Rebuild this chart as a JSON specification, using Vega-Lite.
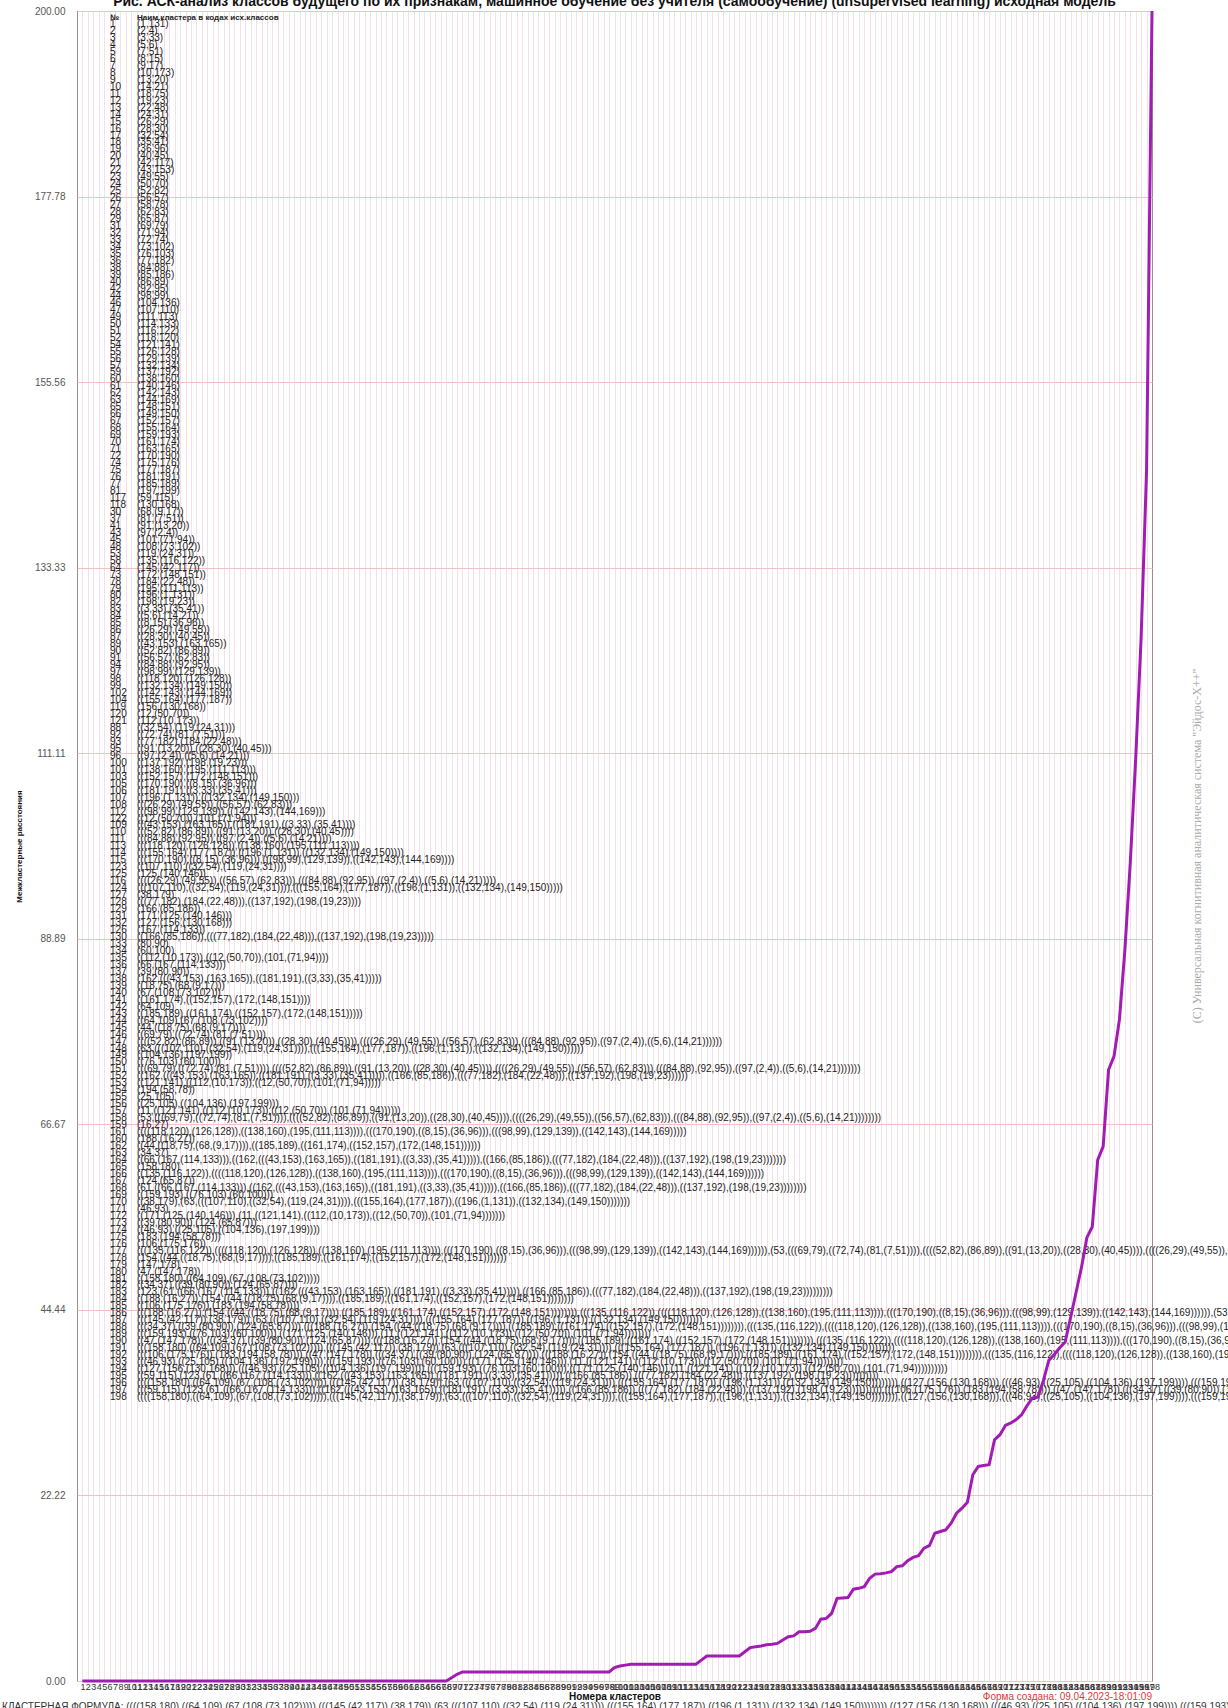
{
"$schema": "https://vega.github.io/schema/vega-lite/v6.json",
"width": 1075,
"height": 1670,
"autosize": {"type": "none"},
"padding": {"left": 77, "top": 11, "right": 76, "bottom": 27},
"background": "white",
"config": {"view": {"stroke": "#555555", "strokeWidth": 1}, "font": "Liberation Sans"},
"title": {"text": "Рис. АСК-анализ классов будущего по их признакам, машинное обучение без учителя (самообучение) (unsupervised learning) исходная модель", "fontSize": 14, "fontWeight": "bold", "font": "Liberation Sans", "color": "#111111", "anchor": "middle", "frame": "group", "offset": -4},
"datasets": {
"curve": [
{"cluster":1,"distance":0},{"cluster":2,"distance":0},{"cluster":3,"distance":0},{"cluster":4,"distance":0},{"cluster":5,"distance":0},{"cluster":6,"distance":0},{"cluster":7,"distance":0},{"cluster":8,"distance":0},{"cluster":9,"distance":0},{"cluster":10,"distance":0},
{"cluster":11,"distance":0},{"cluster":12,"distance":0},{"cluster":13,"distance":0},{"cluster":14,"distance":0},{"cluster":15,"distance":0},{"cluster":16,"distance":0},{"cluster":17,"distance":0},{"cluster":18,"distance":0},{"cluster":19,"distance":0},{"cluster":20,"distance":0},
{"cluster":21,"distance":0},{"cluster":22,"distance":0},{"cluster":23,"distance":0},{"cluster":24,"distance":0},{"cluster":25,"distance":0},{"cluster":26,"distance":0},{"cluster":27,"distance":0},{"cluster":28,"distance":0},{"cluster":29,"distance":0},{"cluster":30,"distance":0},
{"cluster":31,"distance":0},{"cluster":32,"distance":0},{"cluster":33,"distance":0},{"cluster":34,"distance":0},{"cluster":35,"distance":0},{"cluster":36,"distance":0},{"cluster":37,"distance":0},{"cluster":38,"distance":0},{"cluster":39,"distance":0},{"cluster":40,"distance":0},
{"cluster":41,"distance":0},{"cluster":42,"distance":0},{"cluster":43,"distance":0},{"cluster":44,"distance":0},{"cluster":45,"distance":0},{"cluster":46,"distance":0},{"cluster":47,"distance":0},{"cluster":48,"distance":0},{"cluster":49,"distance":0},{"cluster":50,"distance":0},
{"cluster":51,"distance":0},{"cluster":52,"distance":0},{"cluster":53,"distance":0},{"cluster":54,"distance":0},{"cluster":55,"distance":0},{"cluster":56,"distance":0},{"cluster":57,"distance":0},{"cluster":58,"distance":0},{"cluster":59,"distance":0},{"cluster":60,"distance":0},
{"cluster":61,"distance":0},{"cluster":62,"distance":0},{"cluster":63,"distance":0},{"cluster":64,"distance":0},{"cluster":65,"distance":0},{"cluster":66,"distance":0},{"cluster":67,"distance":0},{"cluster":68,"distance":0},{"cluster":69,"distance":0.4},{"cluster":70,"distance":0.8},
{"cluster":71,"distance":1.08},{"cluster":72,"distance":1.08},{"cluster":73,"distance":1.08},{"cluster":74,"distance":1.08},{"cluster":75,"distance":1.08},{"cluster":76,"distance":1.08},{"cluster":77,"distance":1.08},{"cluster":78,"distance":1.08},{"cluster":79,"distance":1.08},{"cluster":80,"distance":1.08},
{"cluster":81,"distance":1.08},{"cluster":82,"distance":1.08},{"cluster":83,"distance":1.08},{"cluster":84,"distance":1.08},{"cluster":85,"distance":1.08},{"cluster":86,"distance":1.08},{"cluster":87,"distance":1.08},{"cluster":88,"distance":1.08},{"cluster":89,"distance":1.08},{"cluster":90,"distance":1.08},
{"cluster":91,"distance":1.08},{"cluster":92,"distance":1.08},{"cluster":93,"distance":1.08},{"cluster":94,"distance":1.08},{"cluster":95,"distance":1.08},{"cluster":96,"distance":1.08},{"cluster":97,"distance":1.08},{"cluster":98,"distance":1.08},{"cluster":99,"distance":1.6},{"cluster":100,"distance":1.8},
{"cluster":101,"distance":1.9},{"cluster":102,"distance":2.0},{"cluster":103,"distance":2.0},{"cluster":104,"distance":2.0},{"cluster":105,"distance":2.0},{"cluster":106,"distance":2.0},{"cluster":107,"distance":2.0},{"cluster":108,"distance":2.0},{"cluster":109,"distance":2.0},{"cluster":110,"distance":2.0},
{"cluster":111,"distance":2.0},{"cluster":112,"distance":2.0},{"cluster":113,"distance":2.0},{"cluster":114,"distance":2.0},{"cluster":115,"distance":2.5},{"cluster":116,"distance":3.0},{"cluster":117,"distance":3.0},{"cluster":118,"distance":3.0},{"cluster":119,"distance":3.0},{"cluster":120,"distance":3.0},
{"cluster":121,"distance":3.0},{"cluster":122,"distance":3.0},{"cluster":123,"distance":3.5},{"cluster":124,"distance":4.0},{"cluster":125,"distance":4.1},{"cluster":126,"distance":4.2},{"cluster":127,"distance":4.35},{"cluster":128,"distance":4.4},{"cluster":129,"distance":4.5},{"cluster":130,"distance":4.9},
{"cluster":131,"distance":5.3},{"cluster":132,"distance":5.4},{"cluster":133,"distance":5.9},{"cluster":134,"distance":5.9},{"cluster":135,"distance":5.95},{"cluster":136,"distance":6.3},{"cluster":137,"distance":7.4},{"cluster":138,"distance":7.5},{"cluster":139,"distance":8.1},{"cluster":140,"distance":9.9},
{"cluster":141,"distance":9.95},{"cluster":142,"distance":10.0},{"cluster":143,"distance":11.0},{"cluster":144,"distance":11.1},{"cluster":145,"distance":11.3},{"cluster":146,"distance":12.3},{"cluster":147,"distance":12.8},{"cluster":148,"distance":12.85},{"cluster":149,"distance":12.95},{"cluster":150,"distance":13.1},
{"cluster":151,"distance":13.7},{"cluster":152,"distance":13.8},{"cluster":153,"distance":14.4},{"cluster":154,"distance":14.8},{"cluster":155,"distance":15.0},{"cluster":156,"distance":15.9},{"cluster":157,"distance":16.2},{"cluster":158,"distance":17.7},{"cluster":159,"distance":17.9},{"cluster":160,"distance":18.1},
{"cluster":161,"distance":18.9},{"cluster":162,"distance":20.1},{"cluster":163,"distance":20.7},{"cluster":164,"distance":21.4},{"cluster":165,"distance":24.7},{"cluster":166,"distance":25.7},{"cluster":167,"distance":25.8},{"cluster":168,"distance":25.9},{"cluster":169,"distance":28.9},{"cluster":170,"distance":29.5},
{"cluster":171,"distance":30.6},{"cluster":172,"distance":30.9},{"cluster":173,"distance":31.3},{"cluster":174,"distance":31.9},{"cluster":175,"distance":33.0},{"cluster":176,"distance":33.9},{"cluster":177,"distance":34.0},{"cluster":178,"distance":36.0},{"cluster":179,"distance":38.4},{"cluster":180,"distance":39.1},
{"cluster":181,"distance":39.9},{"cluster":182,"distance":40.6},{"cluster":183,"distance":43.5},{"cluster":184,"distance":46.5},{"cluster":185,"distance":49.5},{"cluster":186,"distance":53.1},{"cluster":187,"distance":54.4},{"cluster":188,"distance":62.4},{"cluster":189,"distance":64.0},{"cluster":190,"distance":73.2},
{"cluster":191,"distance":74.8},{"cluster":192,"distance":79.2},{"cluster":193,"distance":87.5},{"cluster":194,"distance":98.0},{"cluster":195,"distance":110.5},{"cluster":196,"distance":125.0},{"cluster":197,"distance":145.0},{"cluster":198,"distance":200.0}
],
"table": [
{"row":1,"no":"1","name":"(1,131)"},{"row":2,"no":"2","name":"(2,4)"},{"row":3,"no":"3","name":"(3,33)"},{"row":4,"no":"4","name":"(5,6)"},{"row":5,"no":"5","name":"(7,51)"},{"row":6,"no":"6","name":"(8,15)"},{"row":7,"no":"7","name":"(9,17)"},{"row":8,"no":"8","name":"(10,173)"},{"row":9,"no":"9","name":"(13,20)"},{"row":10,"no":"10","name":"(14,21)"},
{"row":11,"no":"11","name":"(18,75)"},{"row":12,"no":"12","name":"(19,23)"},{"row":13,"no":"13","name":"(22,48)"},{"row":14,"no":"14","name":"(24,31)"},{"row":15,"no":"15","name":"(26,29)"},{"row":16,"no":"16","name":"(28,30)"},{"row":17,"no":"17","name":"(32,54)"},{"row":18,"no":"18","name":"(35,41)"},{"row":19,"no":"19","name":"(36,96)"},{"row":20,"no":"20","name":"(40,45)"},
{"row":21,"no":"21","name":"(42,117)"},{"row":22,"no":"22","name":"(43,153)"},{"row":23,"no":"23","name":"(49,55)"},{"row":24,"no":"24","name":"(50,70)"},{"row":25,"no":"25","name":"(52,82)"},{"row":26,"no":"26","name":"(56,57)"},{"row":27,"no":"27","name":"(58,78)"},{"row":28,"no":"28","name":"(62,83)"},{"row":29,"no":"29","name":"(65,87)"},{"row":30,"no":"31","name":"(69,79)"},
{"row":31,"no":"32","name":"(71,94)"},{"row":32,"no":"33","name":"(72,74)"},{"row":33,"no":"34","name":"(73,102)"},{"row":34,"no":"35","name":"(76,103)"},{"row":35,"no":"36","name":"(77,182)"},{"row":36,"no":"38","name":"(84,88)"},{"row":37,"no":"39","name":"(85,186)"},{"row":38,"no":"40","name":"(86,89)"},{"row":39,"no":"42","name":"(92,95)"},{"row":40,"no":"44","name":"(98,99)"},
{"row":41,"no":"46","name":"(104,136)"},{"row":42,"no":"47","name":"(107,110)"},{"row":43,"no":"49","name":"(111,113)"},{"row":44,"no":"50","name":"(114,133)"},{"row":45,"no":"51","name":"(116,122)"},{"row":46,"no":"52","name":"(118,120)"},{"row":47,"no":"54","name":"(121,141)"},{"row":48,"no":"55","name":"(126,128)"},{"row":49,"no":"56","name":"(129,139)"},{"row":50,"no":"57","name":"(132,134)"},
{"row":51,"no":"59","name":"(137,192)"},{"row":52,"no":"60","name":"(138,160)"},{"row":53,"no":"61","name":"(140,146)"},{"row":54,"no":"62","name":"(142,143)"},{"row":55,"no":"63","name":"(144,169)"},{"row":56,"no":"65","name":"(148,151)"},{"row":57,"no":"66","name":"(149,150)"},{"row":58,"no":"67","name":"(152,157)"},{"row":59,"no":"68","name":"(155,164)"},{"row":60,"no":"69","name":"(159,193)"},
{"row":61,"no":"70","name":"(161,174)"},{"row":62,"no":"71","name":"(163,165)"},{"row":63,"no":"72","name":"(170,190)"},{"row":64,"no":"74","name":"(175,176)"},{"row":65,"no":"75","name":"(177,187)"},{"row":66,"no":"76","name":"(181,191)"},{"row":67,"no":"77","name":"(185,189)"},{"row":68,"no":"81","name":"(197,199)"},{"row":69,"no":"117","name":"(59,115)"},{"row":70,"no":"118","name":"(130,168)"},
{"row":71,"no":"30","name":"(68,(9,17))"},{"row":72,"no":"37","name":"(81,(7,51))"},{"row":73,"no":"41","name":"(91,(13,20))"},{"row":74,"no":"43","name":"(97,(2,4))"},{"row":75,"no":"45","name":"(101,(71,94))"},{"row":76,"no":"48","name":"(108,(73,102))"},{"row":77,"no":"53","name":"(119,(24,31))"},{"row":78,"no":"58","name":"(135,(116,122))"},{"row":79,"no":"64","name":"(145,(42,117))"},{"row":80,"no":"73","name":"(172,(148,151))"},
{"row":81,"no":"78","name":"(184,(22,48))"},{"row":82,"no":"79","name":"(195,(111,113))"},{"row":83,"no":"80","name":"(196,(1,131))"},{"row":84,"no":"82","name":"(198,(19,23))"},{"row":85,"no":"83","name":"((3,33),(35,41))"},{"row":86,"no":"84","name":"((5,6),(14,21))"},{"row":87,"no":"85","name":"((8,15),(36,96))"},{"row":88,"no":"86","name":"((26,29),(49,55))"},{"row":89,"no":"87","name":"((28,30),(40,45))"},{"row":90,"no":"89","name":"((43,153),(163,165))"},
{"row":91,"no":"90","name":"((52,82),(86,89))"},{"row":92,"no":"91","name":"((56,57),(62,83))"},{"row":93,"no":"94","name":"((84,88),(92,95))"},{"row":94,"no":"97","name":"((98,99),(129,139))"},{"row":95,"no":"98","name":"((118,120),(126,128))"},{"row":96,"no":"99","name":"((132,134),(149,150))"},{"row":97,"no":"102","name":"((142,143),(144,169))"},{"row":98,"no":"104","name":"((155,164),(177,187))"},{"row":99,"no":"119","name":"(156,(130,168))"},{"row":100,"no":"120","name":"(12,(50,70))"},
{"row":101,"no":"121","name":"(112,(10,173))"},{"row":102,"no":"88","name":"((32,54),(119,(24,31)))"},{"row":103,"no":"92","name":"((72,74),(81,(7,51)))"},{"row":104,"no":"93","name":"((77,182),(184,(22,48)))"},{"row":105,"no":"95","name":"((91,(13,20)),((28,30),(40,45)))"},{"row":106,"no":"96","name":"((97,(2,4)),((5,6),(14,21)))"},{"row":107,"no":"100","name":"((137,192),(198,(19,23)))"},{"row":108,"no":"101","name":"((138,160),(195,(111,113)))"},{"row":109,"no":"103","name":"((152,157),(172,(148,151)))"},{"row":110,"no":"105","name":"((170,190),((8,15),(36,96)))"},
{"row":111,"no":"106","name":"((181,191),((3,33),(35,41)))"},{"row":112,"no":"107","name":"((196,(1,131)),((132,134),(149,150)))"},{"row":113,"no":"108","name":"(((26,29),(49,55)),((56,57),(62,83)))"},{"row":114,"no":"112","name":"(((98,99),(129,139)),((142,143),(144,169)))"},{"row":115,"no":"122","name":"((12,(50,70)),(101,(71,94)))"},{"row":116,"no":"109","name":"(((43,153),(163,165)),((181,191),((3,33),(35,41))))"},{"row":117,"no":"110","name":"(((52,82),(86,89)),((91,(13,20)),((28,30),(40,45))))"},{"row":118,"no":"111","name":"(((84,88),(92,95)),((97,(2,4)),((5,6),(14,21))))"},{"row":119,"no":"113","name":"(((118,120),(126,128)),((138,160),(195,(111,113))))"},{"row":120,"no":"114","name":"(((155,164),(177,187)),((196,(1,131)),((132,134),(149,150))))"},
{"row":121,"no":"115","name":"(((170,190),((8,15),(36,96))),(((98,99),(129,139)),((142,143),(144,169))))"},{"row":122,"no":"123","name":"((107,110),((32,54),(119,(24,31))))"},{"row":123,"no":"125","name":"(125,(140,146))"},{"row":124,"no":"116","name":"((((26,29),(49,55)),((56,57),(62,83))),(((84,88),(92,95)),((97,(2,4)),((5,6),(14,21)))))"},{"row":125,"no":"124","name":"(((107,110),((32,54),(119,(24,31)))),(((155,164),(177,187)),((196,(1,131)),((132,134),(149,150)))))"},{"row":126,"no":"127","name":"(38,179)"},{"row":127,"no":"128","name":"(((77,182),(184,(22,48))),((137,192),(198,(19,23))))"},{"row":128,"no":"129","name":"(166,(85,186))"},{"row":129,"no":"131","name":"(171,(125,(140,146)))"},{"row":130,"no":"132","name":"(127,(156,(130,168)))"},
{"row":131,"no":"126","name":"(167,(114,133))"},{"row":132,"no":"130","name":"((166,(85,186)),(((77,182),(184,(22,48))),((137,192),(198,(19,23)))))"},{"row":133,"no":"133","name":"(80,90)"},{"row":134,"no":"134","name":"(60,100)"},{"row":135,"no":"135","name":"((112,(10,173)),((12,(50,70)),(101,(71,94))))"},{"row":136,"no":"136","name":"(66,(167,(114,133)))"},{"row":137,"no":"137","name":"(39,(80,90))"},{"row":138,"no":"138","name":"(162,(((43,153),(163,165)),((181,191),((3,33),(35,41)))))"},{"row":139,"no":"139","name":"((18,75),(68,(9,17)))"},{"row":140,"no":"140","name":"(67,(108,(73,102)))"},
{"row":141,"no":"141","name":"((161,174),((152,157),(172,(148,151))))"},{"row":142,"no":"142","name":"(64,109)"},{"row":143,"no":"143","name":"((185,189),((161,174),((152,157),(172,(148,151)))))"},{"row":144,"no":"144","name":"((64,109),(67,(108,(73,102))))"},{"row":145,"no":"145","name":"(44,((18,75),(68,(9,17))))"},{"row":146,"no":"146","name":"((69,79),((72,74),(81,(7,51))))"},{"row":147,"no":"147","name":"((((52,82),(86,89)),((91,(13,20)),((28,30),(40,45)))),((((26,29),(49,55)),((56,57),(62,83))),(((84,88),(92,95)),((97,(2,4)),((5,6),(14,21))))))"},{"row":148,"no":"148","name":"(63,(((107,110),((32,54),(119,(24,31)))),(((155,164),(177,187)),((196,(1,131)),((132,134),(149,150))))))"},{"row":149,"no":"149","name":"((104,136),(197,199))"},{"row":150,"no":"150","name":"((76,103),(60,100))"},
{"row":151,"no":"151","name":"(((69,79),((72,74),(81,(7,51)))),((((52,82),(86,89)),((91,(13,20)),((28,30),(40,45)))),((((26,29),(49,55)),((56,57),(62,83))),(((84,88),(92,95)),((97,(2,4)),((5,6),(14,21)))))))"},{"row":152,"no":"152","name":"((162,(((43,153),(163,165)),((181,191),((3,33),(35,41))))),((166,(85,186)),(((77,182),(184,(22,48))),((137,192),(198,(19,23))))))"},{"row":153,"no":"153","name":"((121,141),((112,(10,173)),((12,(50,70)),(101,(71,94)))))"},{"row":154,"no":"154","name":"(194,(58,78))"},{"row":155,"no":"155","name":"(25,105)"},{"row":156,"no":"156","name":"((25,105),((104,136),(197,199)))"},{"row":157,"no":"157","name":"(11,((121,141),((112,(10,173)),((12,(50,70)),(101,(71,94))))))"},{"row":158,"no":"158","name":"(53,(((69,79),((72,74),(81,(7,51)))),((((52,82),(86,89)),((91,(13,20)),((28,30),(40,45)))),((((26,29),(49,55)),((56,57),(62,83))),(((84,88),(92,95)),((97,(2,4)),((5,6),(14,21))))))))"},{"row":159,"no":"159","name":"(16,27)"},{"row":160,"no":"161","name":"((((118,120),(126,128)),((138,160),(195,(111,113)))),(((170,190),((8,15),(36,96))),(((98,99),(129,139)),((142,143),(144,169)))))"},
{"row":161,"no":"160","name":"(188,(16,27))"},{"row":162,"no":"162","name":"((44,((18,75),(68,(9,17)))),((185,189),((161,174),((152,157),(172,(148,151))))))"},{"row":163,"no":"163","name":"(34,37)"},{"row":164,"no":"164","name":"((66,(167,(114,133))),((162,(((43,153),(163,165)),((181,191),((3,33),(35,41))))),((166,(85,186)),(((77,182),(184,(22,48))),((137,192),(198,(19,23)))))))"},{"row":165,"no":"165","name":"(158,180)"},{"row":166,"no":"166","name":"((135,(116,122)),((((118,120),(126,128)),((138,160),(195,(111,113)))),(((170,190),((8,15),(36,96))),(((98,99),(129,139)),((142,143),(144,169))))))"},{"row":167,"no":"167","name":"(124,(65,87))"},{"row":168,"no":"168","name":"(61,((66,(167,(114,133))),((162,(((43,153),(163,165)),((181,191),((3,33),(35,41))))),((166,(85,186)),(((77,182),(184,(22,48))),((137,192),(198,(19,23))))))))"},{"row":169,"no":"169","name":"((159,193),((76,103),(60,100)))"},{"row":170,"no":"170","name":"((38,179),(63,(((107,110),((32,54),(119,(24,31)))),(((155,164),(177,187)),((196,(1,131)),((132,134),(149,150)))))))"},
{"row":171,"no":"171","name":"(46,93)"},{"row":172,"no":"172","name":"((171,(125,(140,146))),(11,((121,141),((112,(10,173)),((12,(50,70)),(101,(71,94)))))))"},{"row":173,"no":"173","name":"((39,(80,90)),(124,(65,87)))"},{"row":174,"no":"174","name":"((46,93),((25,105),((104,136),(197,199))))"},{"row":175,"no":"175","name":"(183,(194,(58,78)))"},{"row":176,"no":"176","name":"(106,(175,176))"},{"row":177,"no":"177","name":"(((135,(116,122)),((((118,120),(126,128)),((138,160),(195,(111,113)))),(((170,190),((8,15),(36,96))),(((98,99),(129,139)),((142,143),(144,169)))))),(53,(((69,79),((72,74),(81,(7,51)))),((((52,82),(86,89)),((91,(13,20)),((28,30),(40,45)))),((((26,29),(49,55)),((56,57),(62,83))),(((84,88),(92,95)),((97,(2,4)),((5,6),(14,21)))))))))"},{"row":178,"no":"178","name":"(154,((44,((18,75),(68,(9,17)))),((185,189),((161,174),((152,157),(172,(148,151)))))))"},{"row":179,"no":"179","name":"(147,178)"},{"row":180,"no":"180","name":"(47,(147,178))"},
{"row":181,"no":"181","name":"((158,180),((64,109),(67,(108,(73,102)))))"},{"row":182,"no":"182","name":"((34,37),((39,(80,90)),(124,(65,87))))"},{"row":183,"no":"183","name":"(123,(61,((66,(167,(114,133))),((162,(((43,153),(163,165)),((181,191),((3,33),(35,41))))),((166,(85,186)),(((77,182),(184,(22,48))),((137,192),(198,(19,23)))))))))"},{"row":184,"no":"184","name":"((188,(16,27)),(154,((44,((18,75),(68,(9,17)))),((185,189),((161,174),((152,157),(172,(148,151))))))))"},{"row":185,"no":"185","name":"((106,(175,176)),(183,(194,(58,78))))"},{"row":186,"no":"186","name":"(((188,(16,27)),(154,((44,((18,75),(68,(9,17)))),((185,189),((161,174),((152,157),(172,(148,151)))))))),(((135,(116,122)),((((118,120),(126,128)),((138,160),(195,(111,113)))),(((170,190),((8,15),(36,96))),(((98,99),(129,139)),((142,143),(144,169)))))),(53,(((69,79),((72,74),(81,(7,51)))),((((52,82),(86,89)),((91,(13,20)),((28,30),(40,45)))),((((26,29),(49,55)),((56,57),(62,83))),(((84,88),(92,95)),((97,(2,4)),((5,6),(14,21))))))))))"},{"row":187,"no":"187","name":"(((145,(42,117)),(38,179)),(63,(((107,110),((32,54),(119,(24,31)))),(((155,164),(177,187)),((196,(1,131)),((132,134),(149,150)))))))"},{"row":188,"no":"188","name":"(((34,37),((39,(80,90)),(124,(65,87)))),(((188,(16,27)),(154,((44,((18,75),(68,(9,17)))),((185,189),((161,174),((152,157),(172,(148,151)))))))),(((135,(116,122)),((((118,120),(126,128)),((138,160),(195,(111,113)))),(((170,190),((8,15),(36,96))),(((98,99),(129,139)),((142,143),(144,169)))))),(53,(((69,79),((72,74),(81,(7,51)))),((((52,82),(86,89)),((91,(13,20)),((28,30),(40,45))))))))))"},{"row":189,"no":"189","name":"(((159,193),((76,103),(60,100))),((171,(125,(140,146))),(11,((121,141),((112,(10,173)),((12,(50,70)),(101,(71,94))))))))"},{"row":190,"no":"190","name":"((47,(147,178)),(((34,37),((39,(80,90)),(124,(65,87)))),(((188,(16,27)),(154,((44,((18,75),(68,(9,17)))),((185,189),((161,174),((152,157),(172,(148,151)))))))),(((135,(116,122)),((((118,120),(126,128)),((138,160),(195,(111,113)))),(((170,190),((8,15),(36,96))),(((98,99),(129,139)),((142,143),(144,169)))))),(53,(((69,79),((72,74),(81,(7,51)))))))))))"},
{"row":191,"no":"191","name":"(((158,180),((64,109),(67,(108,(73,102))))),(((145,(42,117)),(38,179)),(63,(((107,110),((32,54),(119,(24,31)))),(((155,164),(177,187)),((196,(1,131)),((132,134),(149,150))))))))"},{"row":192,"no":"192","name":"(((106,(175,176)),(183,(194,(58,78)))),((47,(147,178)),(((34,37),((39,(80,90)),(124,(65,87)))),(((188,(16,27)),(154,((44,((18,75),(68,(9,17)))),((185,189),((161,174),((152,157),(172,(148,151)))))))),(((135,(116,122)),((((118,120),(126,128)),((138,160),(195,(111,113)))),(((170,190),((8,15),(36,96))),(((98,99),(129,139)),((142,143),(144,169)))))))))))"},{"row":193,"no":"193","name":"(((46,93),((25,105),((104,136),(197,199)))),(((159,193),((76,103),(60,100))),((171,(125,(140,146))),(11,((121,141),((112,(10,173)),((12,(50,70)),(101,(71,94)))))))))"},{"row":194,"no":"194","name":"((127,(156,(130,168))),(((46,93),((25,105),((104,136),(197,199)))),(((159,193),((76,103),(60,100))),((171,(125,(140,146))),(11,((121,141),((112,(10,173)),((12,(50,70)),(101,(71,94))))))))))"},{"row":195,"no":"195","name":"((59,115),(123,(61,((66,(167,(114,133))),((162,(((43,153),(163,165)),((181,191),((3,33),(35,41))))),((166,(85,186)),(((77,182),(184,(22,48))),((137,192),(198,(19,23))))))))))"},{"row":196,"no":"196","name":"((((158,180),((64,109),(67,(108,(73,102))))),(((145,(42,117)),(38,179)),(63,(((107,110),((32,54),(119,(24,31)))),(((155,164),(177,187)),((196,(1,131)),((132,134),(149,150)))))))),((127,(156,(130,168))),(((46,93),((25,105),((104,136),(197,199)))),(((159,193),((76,103),(60,100))),((171,(125,(140,146))),(11,((121,141),((112,(10,173)),((12,(50,70)),(101,(71,94)))))))))))"},{"row":197,"no":"197","name":"(((59,115),(123,(61,((66,(167,(114,133))),((162,(((43,153),(163,165)),((181,191),((3,33),(35,41))))),((166,(85,186)),(((77,182),(184,(22,48))),((137,192),(198,(19,23)))))))))),(((106,(175,176)),(183,(194,(58,78)))),((47,(147,178)),(((34,37),((39,(80,90)),(124,(65,87)))),(((188,(16,27)),(154,((44,((18,75),(68,(9,17))))))))))))"},{"row":198,"no":"198","name":"((((158,180),((64,109),(67,(108,(73,102))))),(((145,(42,117)),(38,179)),(63,(((107,110),((32,54),(119,(24,31)))),(((155,164),(177,187)),((196,(1,131)),((132,134),(149,150)))))))),((127,(156,(130,168))),(((46,93),((25,105),((104,136),(197,199)))),(((159,193),((76,103),(60,100))),((171,(125,(140,146))),(11,((121,141),((112,(10,173)),((12,(50,70)),(101,(71,94))))))))))),(((59,115),(123,(61,((66,(167,(114,133)))))))))"}
]
},
"layer": [
{
"data": {"name": "table"},
"layer": [
{"mark": {"type": "text", "align": "left", "baseline": "middle", "font": "Liberation Sans", "fontSize": 10, "color": "#222222"},
 "encoding": {"x": {"datum": 6.08, "type": "quantitative", "title": null},
  "y": {"field": "row", "type": "quantitative", "scale": {"domain": [-0.8653, 238.75], "reverse": true, "nice": false, "zero": false}, "axis": null},
  "text": {"field": "no"}}},
{"mark": {"type": "text", "align": "left", "baseline": "middle", "font": "Liberation Sans", "fontSize": 10, "color": "#222222"},
 "encoding": {"x": {"datum": 11.05, "type": "quantitative", "title": null},
  "y": {"field": "row", "type": "quantitative", "scale": {"domain": [-0.8653, 238.75], "reverse": true, "nice": false, "zero": false}, "axis": null},
  "text": {"field": "name"}}}
]
},
{
"layer": [
{"data": {"name": "curve"},
 "mark": {"type": "line", "color": "#a11cb3", "strokeWidth": 3, "clip": false},
 "encoding": {
  "x": {"field": "cluster", "type": "quantitative", "scale": {"domain": [0, 198], "nice": false, "zero": false},
   "axis": {"title": "Номера кластеров", "tickCount": 198, "labelExpr": "datum.value == 0 ? '' : datum.label", "labelOverlap": false, "labelFlush": false, "labelBound": false, "labelFontSize": 9, "labelColor": "#333333", "labelPadding": 1, "ticks": false, "domain": false, "grid": true, "gridColor": "#ecc0ca", "gridDash": [1, 1], "gridWidth": 1, "titleFontSize": 10, "titleFontWeight": "bold", "titleColor": "#111111", "titlePadding": 0}},
  "y": {"field": "distance", "type": "quantitative", "scale": {"domain": [0, 200], "nice": false},
   "axis": {"title": "Межкластерные расстояния", "values": [0, 22.2222, 44.4444, 66.6667, 88.8889, 111.1111, 133.3333, 155.5556, 177.7778, 200], "format": ".2f", "labelFontSize": 10, "labelColor": "#555555", "labelPadding": 12, "ticks": false, "domain": false, "grid": true, "gridColor": "#f0c2c2", "gridWidth": 1, "titleFontSize": 8, "titleFontWeight": "bold", "titleColor": "#111111", "titlePadding": 11}}
 }},
{"data": {"values": [{"t": "№"}]},
 "mark": {"type": "text", "align": "left", "baseline": "middle", "font": "Liberation Sans", "fontSize": 8, "fontWeight": "bold", "color": "#222222"},
 "encoding": {"x": {"datum": 6.08, "type": "quantitative", "title": null}, "y": {"datum": 199.2, "type": "quantitative", "title": null}, "text": {"field": "t"}}},
{"data": {"values": [{"t": "Наим.кластера в кодах исх.классов"}]},
 "mark": {"type": "text", "align": "left", "baseline": "middle", "font": "Liberation Sans", "fontSize": 8, "fontWeight": "bold", "color": "#222222"},
 "encoding": {"x": {"datum": 11.05, "type": "quantitative", "title": null}, "y": {"datum": 199.2, "type": "quantitative", "title": null}, "text": {"field": "t"}}},
{"data": {"values": [{"t": "(С) Универсальная когнитивная аналитическая система \"Эйдос-Х++\""}]},
 "mark": {"type": "text", "align": "center", "baseline": "middle", "angle": 270, "font": "Liberation Serif", "fontSize": 12, "color": "#aaaaaa"},
 "encoding": {"x": {"datum": 206.3, "type": "quantitative", "title": null}, "y": {"datum": 100, "type": "quantitative", "title": null}, "text": {"field": "t"}}},
{"data": {"values": [{"t": "Форма создана: 09.04.2023-18:01:09"}]},
 "mark": {"type": "text", "align": "right", "baseline": "middle", "font": "Liberation Sans", "fontSize": 10, "color": "#d83a3a"},
 "encoding": {"x": {"datum": 198, "type": "quantitative", "title": null}, "y": {"datum": -1.92, "type": "quantitative", "title": null}, "text": {"field": "t"}}},
{"data": {"values": [{"t": "КЛАСТЕРНАЯ ФОРМУЛА: ((((158,180),((64,109),(67,(108,(73,102))))),(((145,(42,117)),(38,179)),(63,(((107,110),((32,54),(119,(24,31)))),(((155,164),(177,187)),((196,(1,131)),((132,134),(149,150)))))))),((127,(156,(130,168))),(((46,93),((25,105),((104,136),(197,199)))),(((159,193),((76,103),(60,100))),((171,(125,(140,146))),(11,((121,141),((112,(10,173)),((12,(50,70)),(101,(71,94))))))))))),(((59,115),(123,(61,((66,(167,(114,133)))))))))"}]},
 "mark": {"type": "text", "align": "left", "baseline": "middle", "font": "Liberation Sans", "fontSize": 10, "color": "#333333"},
 "encoding": {"x": {"datum": -13.8, "type": "quantitative", "title": null}, "y": {"datum": -3.1, "type": "quantitative", "title": null}, "text": {"field": "t"}}}
]
}
],
"resolve": {"scale": {"y": "independent"}, "axis": {"y": "independent"}}
}
